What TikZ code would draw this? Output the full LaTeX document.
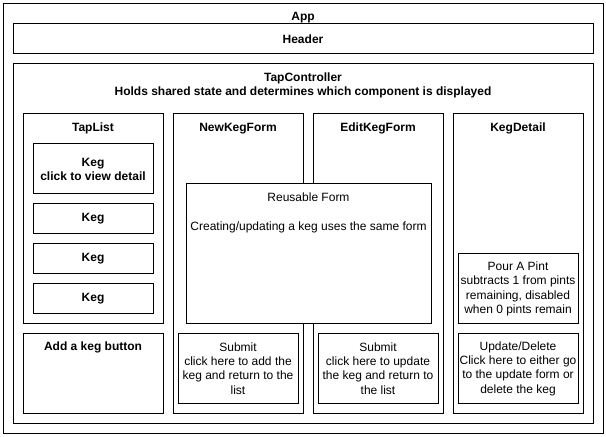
\documentclass[tikz,border=0pt]{standalone}
\usepackage{fontspec}
\setmainfont{Liberation Sans}
\begin{document}
\begin{tikzpicture}[x=0.75pt,y=-0.75pt]

\tikzstyle{every node}=[font=\fontsize{9}{10.8}\selectfont, align=center, inner sep=0pt]
\tikzstyle{box}=[draw, line width=0.75pt]
\tikzstyle{title}=[font=\fontsize{9}{10.5}\selectfont\bfseries]

\useasboundingbox (0,0) rectangle (606,436);

% outer app and header
\draw[box] (3,3) rectangle (603,433);
\node[title] (app) at (303,18) {App};
\draw[box] (13,23) rectangle (593,53);
\node[title] (header) at (303,39) {Header};

% controller
\draw[box] (13,63) rectangle (593,423);
\node[title] (tapcontroller) at (303,85.2)
	{TapController\\Holds shared state and determines which component is displayed};

% tap list
\draw[box] (23,113) rectangle (163,323);
\node[title] (taplist) at (93,128.2) {TapList};
\draw[box] (33,143) rectangle (153,193);
\node[title] (keg1) at (93,169) {Keg\\click to view detail};
\foreach \y/\n in {203/2,243/3,283/4}{
	\draw[box] (33,\y) rectangle (153,\y+30);
	\node[title] (keg\n) at (93,\y+16) {Keg};
}
\draw[box] (23,333) rectangle (163,413);
\node[title] (addkeg) at (93,347.8) {Add a keg button};

% forms
\draw[box] (173,113) rectangle (303,413);
\node[title] (newkegform) at (238,128.2) {NewKegForm};
\draw[box] (313,113) rectangle (443,413);
\node[title] (editkegform) at (378,128.2) {EditKegForm};
\draw[box, fill=white] (186,183) rectangle (431,323);
\node (reusableform) at (308.5,212.5)
	{Reusable Form\\[10.8pt]Creating/updating a keg uses the same form};
\draw[box] (178,333) rectangle (298,403);
\node (submitnew) at (238,368.5)
	{Submit\\click here to add the\\keg and return to the\\list};
\draw[box] (318,333) rectangle (438,403);
\node (submitedit) at (378,368.5)
	{Submit\\click here to update\\the keg and return to\\the list};

% detail
\draw[box] (453,113) rectangle (583,413);
\node[title] (kegdetail) at (518,128.2) {KegDetail};
\draw[box] (458,253) rectangle (578,323);
\node (pourpint) at (518,289)
	{Pour A Pint\\subtracts 1 from pints\\remaining, disabled\\when 0 pints remain};
\draw[box] (458,333) rectangle (578,403);
\node (updatedelete) at (518,368.5)
	{Update/Delete\\Click here to either go\\to the update form or\\delete the keg};

\end{tikzpicture}
\end{document}
